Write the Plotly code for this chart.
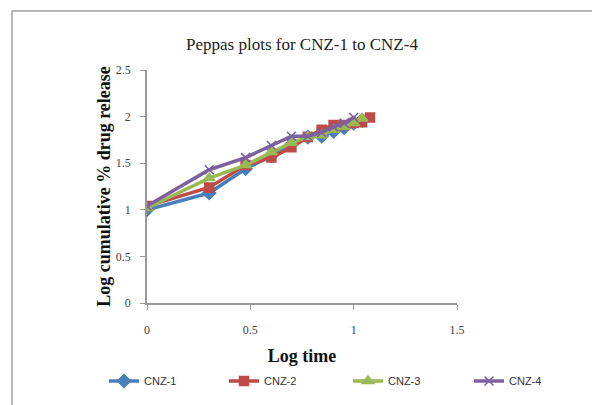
import plotly.graph_objects as go

log_time = [0, 0.301, 0.477, 0.602, 0.699, 0.778, 0.845, 0.903, 0.954, 1.0, 1.041, 1.079]

cnz1 = [1.00, 1.18, 1.44, 1.58, 1.70, 1.78, 1.79, 1.84, 1.88, 1.93, 1.96]
cnz2 = [1.04, 1.24, 1.48, 1.56, 1.67, 1.78, 1.86, 1.91, 1.91, 1.93, 1.94, 1.99]
cnz3 = [1.02, 1.34, 1.48, 1.62, 1.72, 1.78, 1.80, 1.86, 1.89, 1.93, 1.98]
cnz4 = [1.04, 1.43, 1.56, 1.69, 1.79, 1.79, 1.83, 1.89, 1.93, 1.99]

series = [
    ("CNZ-1", cnz1, "#4A7EBB", "diamond", 10),
    ("CNZ-2", cnz2, "#BE4B48", "square", 9),
    ("CNZ-3", cnz3, "#98B954", "triangle-up", 10),
    ("CNZ-4", cnz4, "#7D60A0", "x-thin-open", 9),
]
legend_px = [104, 224, 348, 469]

W, H = 592, 405
L, R, T, B = 147, 135, 70, 102

fig = go.Figure()
legend_ids = ["legend", "legend2", "legend3", "legend4"]
for (name, ys, col, sym, sz), lid in zip(series, legend_ids):
    fig.add_trace(go.Scatter(
        x=log_time[:len(ys)], y=ys, name=name, mode="lines+markers",
        line=dict(color=col, width=3.5),
        marker=dict(symbol=sym, size=sz, color=col, line=dict(color=col, width=1.5)),
        legend=lid,
    ))

pw = W - L - R
ph = H - T - B

def px_x(p):
    return (p - L) / pw

def px_y(p):
    return (H - B - p) / ph

fig.add_shape(type="rect", xref="paper", yref="paper",
              x0=px_x(12), x1=px_x(W + 20), y0=px_y(H + 20), y1=px_y(11),
              line=dict(color="#A0A0A0", width=1.5), fillcolor="rgba(0,0,0,0)", layer="below")

legend_layout = {}
for lid, lx in zip(legend_ids, legend_px):
    legend_layout[lid] = dict(
        orientation="h", xref="container", yref="container",
        x=lx / W, xanchor="left", y=1 - 381 / H, yanchor="middle",
        itemwidth=30,
        font=dict(family="Liberation Sans", size=11, color="#333"),
        bgcolor="rgba(0,0,0,0)")

fig.update_layout(
    width=W, height=H,
    margin=dict(l=L, r=R, t=T, b=B, autoexpand=False),
    paper_bgcolor="white", plot_bgcolor="white",
    title=dict(text="Peppas plots for CNZ-1 to CNZ-4", x=(302) / W, xanchor="center",
               y=1 - 44 / H, yanchor="middle",
               font=dict(family="Liberation Serif", size=17, color="#222")),
    xaxis=dict(range=[0, 1.5], tickvals=[0, 0.5, 1, 1.5], ticktext=["0", "0.5", "1", "1.5"],
               showgrid=False, zeroline=False, showline=True, linecolor="#999", linewidth=1.5,
               ticks="outside", ticklen=5, tickcolor="#999", ticklabelstandoff=10,
               tickfont=dict(family="Liberation Serif", size=12, color="#444"),
               title=dict(text="<b>Log time</b>", standoff=22,
                          font=dict(family="Liberation Serif", size=18, color="#111"))),
    yaxis=dict(range=[0, 2.5], tickvals=[0, 0.5, 1, 1.5, 2, 2.5],
               ticktext=["0", "0.5", "1", "1.5", "2", "2.5"],
               showgrid=False, zeroline=False, showline=True, linecolor="#999", linewidth=1.5,
               ticks="outside", ticklen=5, tickcolor="#999", ticklabelstandoff=7,
               tickfont=dict(family="Liberation Serif", size=12, color="#444"),
               title=dict(text="<b>Log cumulative % drug release</b>", standoff=1,
                          font=dict(family="Liberation Serif", size=18, color="#111"))),
    showlegend=True,
    **legend_layout,
)

fig.write_html("out.html")
